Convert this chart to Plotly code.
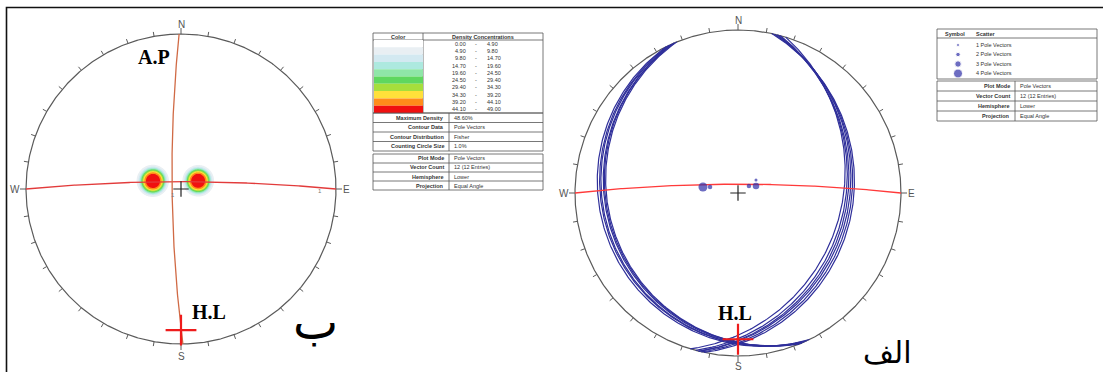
import numpy as np
import plotly.graph_objects as go

W, H = 1103, 372

# ---------------- data ----------------
# Left net: pole vectors used for the density contours (trend, plunge in degrees)
left_pole_trend = [285, 286, 287, 286, 285, 287, 64, 65, 66, 64, 65, 63]
left_pole_plunge = [68.5, 69.0, 68.5, 68.0, 69.5, 69.0, 76.0, 76.5, 75.5, 76.0, 76.0, 76.5]
left_hinge = (180.0, 5.4)            # H.L trend, plunge
left_axial_plane = (269.3, 83.4)     # A.P dip direction, dip

# Right net: bedding planes (dip direction, dip)
right_dipdir = [244, 245, 246, 247, 247, 248, 102, 103, 104, 104, 105, 107]
right_dip = [9.5, 10.5, 11.0, 12.0, 12.5, 13.0, 19.5, 20.5, 21.5, 22.5, 23.5, 25.0]
# Right net: pole clusters (trend, plunge, number of poles)
pole_trend = [279.7, 282.1, 57.6, 68.8, 54.1]
pole_plunge = [65.4, 70.1, 80.9, 76.5, 74.5]
pole_count = [4, 2, 2, 3, 1]
right_hinge = (180.0, 6.2)

# Density legend
density_low = ["0.00", "4.90", "9.80", "14.70", "19.60", "24.50", "29.40", "34.30", "39.20", "44.10"]
density_high = ["4.90", "9.80", "14.70", "19.60", "24.50", "29.40", "34.30", "39.20", "44.10", "49.00"]
density_colors = ["#ffffff", "#e9eff3", "#d3e9f1", "#ade9df", "#8fe6a8",
                  "#5fd75f", "#a6de3c", "#ffe03a", "#ff8c1a", "#f01010"]
contour_info = [("Maximum Density", "48.60%"), ("Contour Data", "Pole Vectors"),
                ("Contour Distribution", "Fisher"), ("Counting Circle Size", "1.0%")]
plot_info = [("Plot Mode", "Pole Vectors"), ("Vector Count", "12 (12 Entries)"),
             ("Hemisphere", "Lower"), ("Projection", "Equal Angle")]
scatter_labels = ["1 Pole Vectors", "2 Pole Vectors", "3 Pole Vectors", "4 Pole Vectors"]
scatter_counts = [1, 2, 3, 4]

# ---------------- layout constants ----------------
NETS = {
    "left": dict(cx=181, cy=189, R=155, xdom=(0, 367), ax="x", ay="y"),
    "right": dict(cx=738, cy=193, R=163, xdom=(550, 930), ax="x2", ay="y2"),
}
GRID_GRAY = "#5a5a5a"
BLUE = "#2f2f9a"
POLE_BLUE = "#2f2fa8"
marker_size = {1: 3, 2: 4.5, 3: 6.5, 4: 9}


def project_line(trend, plunge):
    t = np.radians(np.asarray(trend, float))
    p = np.radians(np.asarray(plunge, float))
    r = np.tan((np.pi / 2 - p) / 2)
    return r * np.sin(t), r * np.cos(t)


def great_circle(dipdir, dip, n=241):
    a, d = np.radians(dipdir), np.radians(dip)
    th = np.linspace(0, np.pi, n)
    s = np.array([np.sin(a - np.pi / 2), np.cos(a - np.pi / 2), 0.0])
    dv = np.array([np.cos(d) * np.sin(a), np.cos(d) * np.cos(a), np.sin(d)])
    v = np.outer(np.cos(th), s) + np.outer(np.sin(th), dv)
    return v[:, 0] / (1 + v[:, 2]), v[:, 1] / (1 + v[:, 2])


def px(x, y):
    return x / W, 1 - y / H


fig = go.Figure()
annotations = []
shapes = []


def text(x, y, s, size=6, color="#333", anchor="center", bold=False, family="Liberation Sans"):
    xp, yp = px(x, y)
    annotations.append(dict(x=xp, y=yp, xref="paper", yref="paper", text=f"<b>{s}</b>" if bold else s,
                            showarrow=False, xanchor=anchor, yanchor="middle",
                            font=dict(size=size, color=color, family=family)))


def rect(x0, y0, x1, y1, fill=None, color="#555", width=0.8):
    a, b = px(x0, y0)
    c, d = px(x1, y1)
    shapes.append(dict(type="rect", xref="paper", yref="paper", x0=a, y0=d, x1=c, y1=b,
                       line=dict(color=color, width=width if fill is None or color else 0),
                       fillcolor=fill if fill else "rgba(0,0,0,0)", layer="above"))


def hline(x0, x1, y, color="#555", width=0.8):
    a, b = px(x0, y)
    c, _ = px(x1, y)
    shapes.append(dict(type="line", xref="paper", yref="paper", x0=a, y0=b, x1=c, y1=b,
                       line=dict(color=color, width=width)))


def vline(x, y0, y1, color="#555", width=0.8):
    a, b = px(x, y0)
    _, d = px(x, y1)
    shapes.append(dict(type="line", xref="paper", yref="paper", x0=a, y0=b, x1=a, y1=d,
                       line=dict(color=color, width=width)))


# ---------------- left net density contours ----------------
L = NETS["left"]
gx = np.linspace(-0.45, 0.40, 230)
gy = np.linspace(-0.25, 0.35, 170)
GX, GY = np.meshgrid(gx, gy)
r2 = GX ** 2 + GY ** 2
ve, vn, vd = 2 * GX / (1 + r2), 2 * GY / (1 + r2), (1 - r2) / (1 + r2)
pt, pp = np.radians(left_pole_trend), np.radians(left_pole_plunge)
pe, pn, pd_ = np.cos(pp) * np.sin(pt), np.cos(pp) * np.cos(pt), np.sin(pp)
alpha = np.degrees(np.arccos(1 - 0.01))  # 1% counting circle
Z = np.zeros_like(GX)
for e, n_, d_ in zip(pe, pn, pd_):
    ang = np.degrees(np.arccos(np.clip(ve * e + vn * n_ + vd * d_, -1, 1)))
    Z += 1 / (1 + np.exp((ang - alpha) / 1.5))
Z *= 100 / len(left_pole_trend)
cscale = [[k / 9, c] for k, c in enumerate(density_colors)]
fig.add_trace(go.Contour(x=gx, y=gy, z=Z, autocontour=False,
                         contours=dict(start=4.9, end=44.1, size=4.9, coloring="fill", showlines=False),
                         colorscale=cscale, showscale=False, line=dict(width=0),
                         hoverinfo="skip", xaxis="x", yaxis="y"))


# ---------------- stereonet frames ----------------
def draw_net(net, s_gap):
    R, ax, ay = net["R"], net["ax"], net["ay"]
    th = np.linspace(0, 2 * np.pi, 721)
    fig.add_trace(go.Scatter(x=np.sin(th), y=np.cos(th), mode="lines",
                             line=dict(color=GRID_GRAY, width=1.2), hoverinfo="skip",
                             xaxis=ax, yaxis=ay))
    tx, ty = [], []
    for az in range(0, 360, 10):
        ln = (6 if az % 90 == 0 else 4.5) / R
        a = np.radians(az)
        tx += [np.sin(a), (1 + ln) * np.sin(a), None]
        ty += [np.cos(a), (1 + ln) * np.cos(a), None]
    fig.add_trace(go.Scatter(x=tx, y=ty, mode="lines", line=dict(color=GRID_GRAY, width=1),
                             hoverinfo="skip", xaxis=ax, yaxis=ay))
    cx, cy = net["cx"], net["cy"]
    text(cx, cy - R - 9, "N", size=10, color="#555")
    text(cx, cy + R + s_gap, "S", size=10, color="#555")
    text(cx - R - 11, cy, "W", size=10, color="#555")
    text(cx + R + 10, cy, "E", size=10, color="#555")


draw_net(L, 12)

# left: girdle (plane normal to the hinge line) and axial plane
gd, gp = (left_hinge[0] + 180) % 360, 90 - left_hinge[1]
x, y = great_circle(gd, gp)
fig.add_trace(go.Scatter(x=x, y=y, mode="lines", line=dict(color="#e23b3b", width=1.3),
                         hoverinfo="skip", xaxis="x", yaxis="y"))
x, y = great_circle(*left_axial_plane)
fig.add_trace(go.Scatter(x=x, y=y, mode="lines", line=dict(color="#d06a45", width=1.3),
                         hoverinfo="skip", xaxis="x", yaxis="y"))
fig.add_trace(go.Scatter(x=[0], y=[0], mode="markers",
                         marker=dict(symbol="cross-thin", size=11, line=dict(color="#222", width=1.2)),
                         hoverinfo="skip", xaxis="x", yaxis="y"))
hx, hy = project_line(*left_hinge)
fig.add_trace(go.Scatter(x=[hx], y=[hy], mode="markers",
                         marker=dict(symbol="cross-thin", size=22, line=dict(color="#ee1c1c", width=2.2)),
                         hoverinfo="skip", xaxis="x", yaxis="y"))
text(173, 195, "1", size=6, color="#777")
text(320, 191, "1", size=6, color="#777")
text(154, 57, "A.P", size=20, color="#000", bold=True, family="Liberation Serif")
text(209, 312, "H.L", size=20, color="#000", bold=True, family="Liberation Serif")
text(315, 322, "ب", size=48, color="#000", family="DejaVu Sans")

# ---------------- right net ----------------
Rn = NETS["right"]
draw_net(Rn, 10)
for dd, dp in zip(right_dipdir, right_dip):
    x, y = great_circle(dd, dp)
    fig.add_trace(go.Scatter(x=x, y=y, mode="lines", line=dict(color=BLUE, width=1.2),
                             hoverinfo="skip", xaxis="x2", yaxis="y2"))
gd, gp = (right_hinge[0] + 180) % 360, 90 - right_hinge[1]
x, y = great_circle(gd, gp)
fig.add_trace(go.Scatter(x=x, y=y, mode="lines", line=dict(color="#ff3a3a", width=1.3),
                         hoverinfo="skip", xaxis="x2", yaxis="y2"))
px_, py_ = project_line(pole_trend, pole_plunge)
fig.add_trace(go.Scatter(x=px_, y=py_, mode="markers",
                         marker=dict(color=POLE_BLUE, size=[marker_size[c] for c in pole_count],
                                     line=dict(width=0)),
                         hoverinfo="skip", xaxis="x2", yaxis="y2"))
fig.add_trace(go.Scatter(x=[0], y=[0], mode="markers",
                         marker=dict(symbol="cross-thin", size=11, line=dict(color="#222", width=1.2)),
                         hoverinfo="skip", xaxis="x2", yaxis="y2"))
hx, hy = project_line(*right_hinge)
fig.add_trace(go.Scatter(x=[hx], y=[hy], mode="markers",
                         marker=dict(symbol="cross-thin", size=22, line=dict(color="#ee1c1c", width=2.2)),
                         hoverinfo="skip", xaxis="x2", yaxis="y2"))
text(735, 313, "H.L", size=20, color="#000", bold=True, family="Liberation Serif")
text(887, 352, "الف", size=30, color="#000", family="DejaVu Sans")

# ---------------- density legend table ----------------
TL, TR, DIV1, DIV2 = 373, 543, 423, 449
rect(TL, 33, TR, 113)
hline(TL, TR, 40)
vline(DIV1, 33, 113)
text((TL + DIV1) / 2, 36.5, "Color", size=5.5, bold=True)
text((DIV1 + TR) / 2, 36.5, "Density Concentrations", size=5.5, bold=True)
row_h = (113 - 40) / 10
for k in range(10):
    y0 = 40 + k * row_h
    rect(TL + 1, y0, DIV1, y0 + row_h, fill=density_colors[k], color=None)
    yc = y0 + row_h / 2
    text(468, yc, density_low[k], size=5.5, anchor="right")
    text(476, yc, "-", size=5.5)
    text(485, yc, density_high[k], size=5.5, anchor="left")
rect(TL, 113, TR, 151)
vline(DIV2, 113, 151)
for k, (lab, val) in enumerate(contour_info):
    y0 = 113 + k * 9.5
    if k:
        hline(TL, TR, y0)
    text(DIV2 - 3, y0 + 4.75, lab, size=5.5, anchor="right", bold=True)
    text(DIV2 + 3, y0 + 4.75, val, size=5.5, anchor="left")
rect(TL, 154, TR, 190)
vline(DIV2, 154, 190)
for k, (lab, val) in enumerate(plot_info):
    y0 = 154 + k * 9
    if k:
        hline(TL, TR, y0)
    text(DIV2 - 3, y0 + 4.5, lab, size=5.5, anchor="right", bold=True)
    text(DIV2 + 3, y0 + 4.5, val, size=5.5, anchor="left")

# ---------------- scatter legend table ----------------
SL, SR, SDIV = 937, 1097, 1015
rect(SL, 29, SR, 79)
hline(SL, SR, 38)
text(955, 33.5, "Symbol", size=5.5, bold=True)
text(974, 33.5, "Scatter", size=5.5, anchor="left", bold=True)
sym_y = [45, 54.5, 64, 73.5]
fig.add_trace(go.Scatter(x=[958 / W] * 4, y=[1 - v / H for v in sym_y], mode="markers",
                         marker=dict(color=POLE_BLUE, size=[marker_size[c] for c in scatter_counts]),
                         hoverinfo="skip", xaxis="x3", yaxis="y3"))
for yv, lab in zip(sym_y, scatter_labels):
    text(974, yv, lab, size=5.5, anchor="left")
rect(SL, 81, SR, 121)
vline(SDIV, 81, 121)
for k, (lab, val) in enumerate(plot_info):
    y0 = 81 + k * 10
    if k:
        hline(SL, SR, y0)
    text(SDIV - 3, y0 + 5, lab, size=5.5, anchor="right", bold=True)
    text(SDIV + 3, y0 + 5, val, size=5.5, anchor="left")

# page frame (left and top edges visible)
shapes.append(dict(type="rect", xref="paper", yref="paper", x0=6.5 / W, y0=-0.1, x1=1.1, y1=1 - 7.5 / H,
                   line=dict(color="#111", width=1.6), layer="above"))


def axis_pair(net):
    cx, cy, R = net["cx"], net["cy"], net["R"]
    x0, x1 = net["xdom"]
    xa = dict(domain=[x0 / W, x1 / W], range=[(x0 - cx) / R, (x1 - cx) / R], visible=False, fixedrange=True)
    ya = dict(domain=[0, 1], range=[(cy - H) / R, cy / R], visible=False, fixedrange=True)
    return xa, ya


xa1, ya1 = axis_pair(L)
xa2, ya2 = axis_pair(Rn)
ya2["anchor"] = "x2"
xa2["anchor"] = "y2"
fig.update_layout(
    width=W, height=H, margin=dict(l=0, r=0, t=0, b=0),
    paper_bgcolor="white", plot_bgcolor="rgba(0,0,0,0)", showlegend=False,
    xaxis=xa1, yaxis=ya1, xaxis2=xa2, yaxis2=ya2,
    xaxis3=dict(domain=[0, 1], range=[0, 1], visible=False, anchor="y3", fixedrange=True),
    yaxis3=dict(domain=[0, 1], range=[0, 1], visible=False, anchor="x3", fixedrange=True),
    annotations=annotations, shapes=shapes,
)
fig.write_html("out.html")
